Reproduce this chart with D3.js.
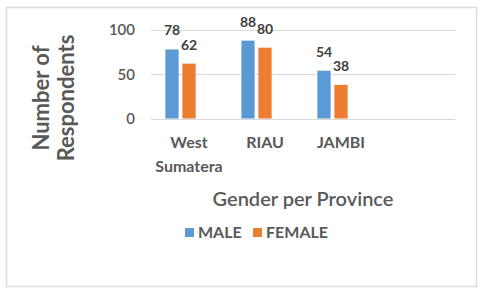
<!DOCTYPE html>
<html>
<head>
<meta charset="utf-8">
<script src="https://cdn.jsdelivr.net/npm/d3@7"></script>
<style>
  html, body { margin: 0; padding: 0; background: #fff; }
  #chart { width: 480px; height: 293px; }
  text { font-family: Lato, "Open Sans", sans-serif; }
</style>
</head>
<body>
<div id="chart"></div>
<script>
// Data
var provinces = ["West Sumatera", "RIAU", "JAMBI", ""];
var seriesNames = ["MALE", "FEMALE", ""];
var maleValues = [78, 88, 54, null];
var femaleValues = [62, 80, 38, null];
var yTicks = [0, 50, 100];

var colors = ["#5B9BD5", "#ED7D31", "none"];

// SVG
var width = 480, height = 293;
var svg = d3.select("#chart").append("svg")
    .attr("width", width)
    .attr("height", height);

// outer frame
svg.append("rect")
    .attr("x", 6.5).attr("y", 7.5)
    .attr("width", 470).attr("height", 279)
    .attr("fill", "#fff")
    .attr("stroke", "#dcdcdc")
    .attr("stroke-width", 1.5);

var plot = { left: 151, right: 455, top: 30, bottom: 118.5 };

var x0 = d3.scaleBand()
    .domain(provinces.map(function (d, i) { return i; }))
    .range([plot.left, plot.right]);

var x1 = d3.scaleBand()
    .domain(seriesNames.map(function (d, i) { return i; }))
    .range([x0.bandwidth() / 2 - 25.5, x0.bandwidth() / 2 + 25.5])
    .paddingInner(0.22)
    .paddingOuter(0.11);

var y = d3.scaleLinear()
    .domain([0, 100])
    .range([plot.bottom, plot.top]);

// gridlines
svg.append("g")
    .attr("class", "grid")
    .selectAll("line")
    .data(yTicks).enter()
    .append("line")
    .attr("x1", plot.left)
    .attr("x2", plot.right)
    .attr("y1", function (d) { return Math.round(y(d)) + 0.5; })
    .attr("y2", function (d) { return Math.round(y(d)) + 0.5; })
    .attr("stroke", "#d9d9d9")
    .attr("stroke-width", 1.2);

// y axis labels
var yAxis = svg.append("g")
    .attr("transform", "translate(" + plot.left + ",0)")
    .call(d3.axisLeft(y).tickValues(yTicks).tickSize(0).tickPadding(16));
yAxis.select(".domain").remove();
yAxis.selectAll("text")
    .attr("font-family", "Lato, sans-serif")
    .attr("font-size", 15)
    .attr("font-weight", 600)
    .attr("fill", "#595959");

// bars
var rows = provinces.map(function (p, i) {
    return { idx: i, values: [maleValues[i], femaleValues[i], null] };
});

var groups = svg.append("g").selectAll(".group")
    .data(rows).enter()
    .append("g")
    .attr("class", "group")
    .attr("transform", function (d) { return "translate(" + x0(d.idx) + ",0)"; });

var cells = groups.selectAll(".bar")
    .data(function (d) {
        return d.values.map(function (v, j) { return { s: j, v: v }; })
            .filter(function (c) { return c.v !== null; });
    }).enter();

cells.append("rect")
    .attr("class", "bar")
    .attr("x", function (d) { return x1(d.s); })
    .attr("width", x1.bandwidth())
    .attr("y", function (d) { return y(d.v); })
    .attr("height", function (d) { return y(0) - y(d.v); })
    .attr("fill", function (d) { return colors[d.s]; });

cells.append("text")
    .attr("x", function (d) { return x1(d.s) + x1.bandwidth() / 2; })
    .attr("y", function (d) { return y(d.v) - 14; })
    .attr("text-anchor", "middle")
    .attr("font-size", 14)
    .attr("font-weight", 700)
    .attr("fill", "#404040")
    .text(function (d) { return d.v; });

// category labels
var catLabels = svg.append("g").selectAll(".cat")
    .data(rows).enter()
    .append("text")
    .attr("class", "cat")
    .attr("text-anchor", "middle")
    .attr("font-size", 16)
    .attr("font-weight", 700)
    .attr("fill", "#595959")
    .attr("x", function (d) { return x0(d.idx) + x0.bandwidth() / 2; })
    .attr("y", 148);

catLabels.each(function (d) {
    var words = provinces[d.idx].split(" ");
    var t = d3.select(this);
    words.forEach(function (w, k) {
        t.append("tspan")
            .attr("x", x0(d.idx) + x0.bandwidth() / 2)
            .attr("dy", k === 0 ? 0 : 24)
            .text(w);
    });
});

// x axis title
svg.append("text")
    .attr("x", (plot.left + plot.right) / 2)
    .attr("y", 206)
    .attr("text-anchor", "middle")
    .attr("font-size", 20)
    .attr("font-weight", 600)
    .attr("fill", "#595959")
    .text("Gender per Province");

// y axis title
var yTitle = svg.append("text")
    .attr("transform", "translate(49,98) rotate(-90)")
    .attr("text-anchor", "middle")
    .attr("font-size", 22)
    .attr("font-weight", 700)
    .attr("fill", "#595959");
yTitle.append("tspan").attr("x", 0).attr("dy", 0).text("Number of");
yTitle.append("tspan").attr("x", 0).attr("dy", 25).text("Respondents");

// legend
var legendData = seriesNames.slice(0, 2);
var legendX = [185, 253];
var legend = svg.append("g").selectAll(".legendItem")
    .data(legendData).enter()
    .append("g")
    .attr("class", "legendItem")
    .attr("transform", function (d, i) { return "translate(" + legendX[i] + ",228)"; });

legend.append("rect")
    .attr("width", 9).attr("height", 9)
    .attr("fill", function (d, i) { return colors[i]; });

legend.append("text")
    .attr("x", 13)
    .attr("y", 10)
    .attr("font-size", 16)
    .attr("font-weight", 700)
    .attr("fill", "#595959")
    .text(function (d) { return d; });
</script>
</body>
</html>
